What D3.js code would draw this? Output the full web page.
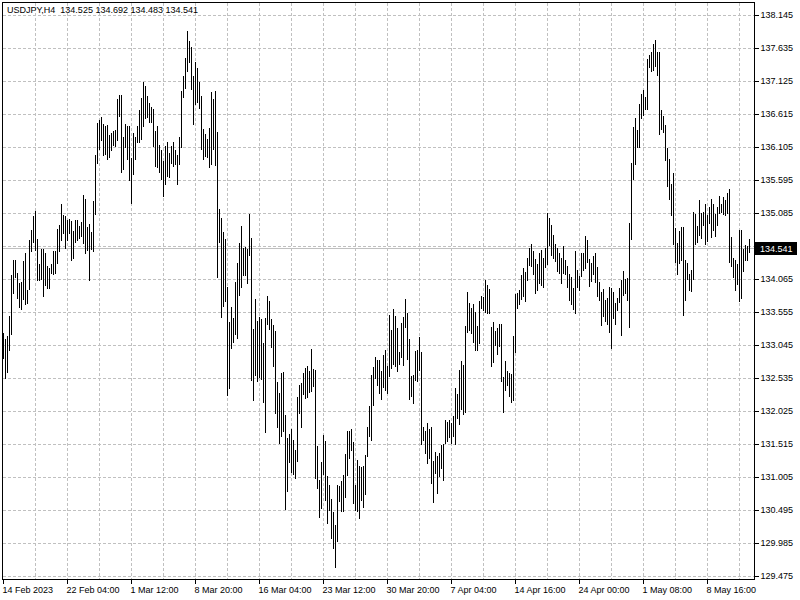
<!DOCTYPE html>
<html>
<head>
<meta charset="utf-8">
<script src="https://cdn.jsdelivr.net/npm/d3@7/dist/d3.min.js"></script>
<style>
  html, body { margin: 0; padding: 0; background: #fff; }
  svg { display: block; }
  text { font-family: "Liberation Sans", Arial, sans-serif; font-size: 9px; fill: #000; }
</style>
</head>
<body>
<svg id="chart" width="800" height="600"></svg>
<script>
const symbol = "USDJPY,H4";
const lastOHLC = [134.525, 134.692, 134.483, 134.541];
const bidPrice = 134.541;

const highs = [
133.236,133.143,133.194,133.504,134.137,134.369,134.369,134.173,134.008,134.019,
134.354,134.482,133.895,134.678,134.823,135.039,135.127,134.688,134.307,134.539,
134.539,134.472,134.266,134.240,134.307,134.498,134.513,134.843,134.910,135.235,
135.065,135.049,134.977,134.998,134.962,134.807,134.987,134.977,134.895,134.946,
135.374,135.307,134.884,134.925,134.792,135.271,135.992,136.481,136.523,136.569,
136.471,136.440,136.456,136.301,136.327,136.363,136.378,136.852,136.919,136.919,
136.265,136.471,136.440,136.440,135.940,136.327,136.275,136.440,136.688,136.868,
137.110,137.058,136.904,136.790,136.729,136.698,136.353,136.430,136.147,136.059,
135.904,136.131,136.183,136.018,136.121,136.183,136.069,135.992,136.275,136.971,
137.203,137.486,137.898,137.744,137.652,137.210,137.431,137.337,137.116,136.895,
136.397,136.309,136.243,136.408,136.961,136.862,136.978,136.342,135.149,135.016,
134.806,134.696,133.950,133.408,133.635,133.469,134.022,134.320,134.630,134.889,
134.558,134.574,134.541,135.083,134.707,133.303,133.768,133.425,133.480,133.453,
133.082,133.469,133.812,133.729,133.453,133.359,133.270,132.486,132.309,132.624,
132.641,131.972,131.613,131.684,131.751,131.591,131.436,132.254,132.441,132.458,
132.624,132.696,132.734,132.652,132.994,132.679,132.663,131.491,130.966,131.243,
131.657,131.574,131.022,130.894,130.673,130.469,130.265,130.883,130.872,130.950,
131.038,131.370,131.723,131.723,131.756,131.546,130.894,131.281,131.187,131.171,
131.187,131.353,131.778,132.110,132.585,132.707,132.872,132.828,132.818,132.654,
132.896,132.973,132.726,133.514,133.282,133.602,133.498,133.308,132.947,133.395,
133.488,133.756,133.550,133.138,132.571,132.587,132.963,132.983,133.169,132.947,
131.778,131.726,131.840,131.762,131.778,131.263,131.402,131.335,131.386,131.505,
131.520,131.901,131.865,131.901,131.840,131.953,132.381,132.303,132.674,132.808,
132.741,133.344,133.869,133.705,133.617,133.694,133.565,133.344,133.736,133.808,
133.787,134.055,133.978,133.911,133.334,133.411,133.272,133.308,133.375,133.385,
132.551,132.808,132.654,132.623,132.612,133.189,133.839,133.849,133.900,134.132,
134.235,134.184,134.400,134.550,134.620,134.500,134.380,134.300,134.480,134.520,
134.400,134.550,135.100,135.020,134.900,134.750,134.620,134.550,134.480,134.400,
134.580,134.363,134.270,134.157,134.106,133.941,134.507,134.219,134.116,134.477,
134.477,134.734,134.672,134.389,134.322,134.425,134.477,134.260,134.028,133.874,
133.925,133.745,133.786,133.951,133.941,133.874,133.704,133.786,133.941,134.054,
134.198,134.080,134.095,134.940,135.868,136.424,136.568,136.372,136.774,136.939,
136.991,136.888,137.480,137.532,137.583,137.702,137.774,137.583,137.583,136.692,
136.589,136.450,136.105,135.934,135.548,135.713,134.868,134.631,134.817,134.878,
134.878,134.363,134.322,134.157,134.219,135.110,135.084,134.889,135.301,135.095,
135.110,135.239,135.059,135.187,135.316,135.239,135.074,135.187,135.352,135.239,
135.342,135.290,135.404,135.471,134.724,134.404,134.363,134.312,134.837,134.837,
134.543,134.595,134.580,134.692
];

const lows = [
132.849,132.540,132.628,132.968,133.220,133.864,134.101,133.777,133.637,133.607,
133.761,133.689,133.699,133.916,134.513,134.637,134.524,134.060,134.050,134.070,
133.813,133.983,133.931,133.931,134.163,134.153,134.173,134.318,134.513,134.668,
134.781,134.549,134.668,134.781,134.369,134.395,134.652,134.678,134.704,134.730,
134.627,134.482,134.524,134.050,134.534,134.513,135.080,135.873,136.080,136.224,
135.992,136.002,135.925,135.956,136.069,136.147,136.121,136.224,136.595,135.734,
135.770,136.110,135.925,135.606,135.255,135.698,135.925,136.183,136.183,136.234,
136.440,136.559,136.584,136.492,136.492,136.121,135.822,135.801,135.734,135.616,
135.358,135.544,135.657,135.647,135.873,135.812,135.853,135.544,135.853,136.110,
136.883,137.022,137.295,137.434,137.016,136.464,136.784,136.806,136.712,136.088,
135.922,135.966,135.955,135.801,135.845,136.077,135.828,134.099,134.652,133.491,
133.657,133.729,132.276,132.386,133.011,133.105,133.215,133.160,133.823,133.950,
134.132,134.132,134.005,134.447,132.513,132.198,132.596,132.497,132.552,132.530,
132.165,131.701,133.370,133.303,133.027,132.734,131.995,131.778,131.535,131.646,
131.723,130.524,130.801,131.243,131.094,131.060,131.005,131.254,131.995,131.778,
132.292,132.237,132.254,132.320,132.348,132.420,130.994,130.839,130.397,130.541,
131.060,130.651,130.304,130.508,130.066,129.917,129.624,130.027,130.635,130.486,
130.486,130.707,131.049,131.314,131.425,130.618,130.508,130.486,130.386,130.651,
130.552,130.745,131.337,131.646,131.591,132.127,132.541,132.442,132.314,132.211,
132.406,132.355,132.314,132.571,132.690,132.757,132.726,132.654,132.757,132.870,
132.741,133.334,132.844,132.211,132.262,132.159,132.509,132.499,132.664,131.520,
131.582,131.376,131.232,131.314,130.922,130.629,131.077,130.768,131.026,131.159,
130.974,131.541,131.572,131.634,131.541,131.644,131.520,131.917,131.829,132.056,
131.984,132.020,133.256,133.282,133.241,133.102,132.983,132.973,133.086,133.617,
133.591,133.565,133.540,133.550,132.726,132.793,133.050,132.911,133.035,132.499,
132.020,132.355,132.432,132.262,132.174,132.200,132.947,133.632,133.694,133.756,
133.808,133.736,134.055,134.287,134.271,134.148,133.859,133.900,134.014,133.978,
133.952,134.261,134.302,134.600,134.450,134.400,134.350,134.200,134.168,134.014,
134.160,134.147,133.951,133.755,133.693,133.616,133.549,133.951,133.910,134.116,
134.219,134.250,134.337,133.961,134.044,134.147,134.028,133.807,133.745,133.358,
133.498,133.425,133.374,133.255,133.013,133.477,133.384,133.601,133.719,133.204,
133.822,133.858,133.745,133.333,134.698,135.625,135.857,136.115,136.115,136.568,
136.604,136.707,136.707,137.351,137.289,137.300,137.362,137.223,136.321,136.398,
136.347,135.909,135.507,135.316,135.059,134.621,134.337,134.157,134.322,134.363,
133.513,133.745,134.080,133.900,133.889,134.080,134.621,134.646,134.750,134.713,
134.904,134.621,134.662,134.940,134.724,134.837,134.734,134.904,135.095,135.110,
135.084,135.059,135.095,134.337,134.270,134.106,133.900,134.002,133.735,133.786,
134.198,134.363,134.373,134.483
];

const yTicks = [138.145,137.635,137.125,136.615,136.105,135.595,135.085,134.575,134.065,
  133.555,133.045,132.535,132.025,131.515,131.005,130.495,129.985,129.475];

const xTickBars = [0,32,64,96,128,160,192,224,256,288,320,352];
const xTickLabels = ["14 Feb 2023","22 Feb 04:00","1 Mar 12:00","8 Mar 20:00","16 Mar 04:00",
  "23 Mar 12:00","30 Mar 20:00","7 Apr 04:00","14 Apr 16:00","24 Apr 00:00","1 May 08:00","8 May 16:00"];
const gridBars = d3.range(16, 373, 16);

const svg = d3.select("#chart");
svg.append("rect").attr("width", 800).attr("height", 600).attr("fill", "#fff");

const n = highs.length;
const x = d3.scaleLinear().domain([0, n - 1]).range([3.5, 3.5 + 2 * (n - 1)]);
const y = d3.scaleLinear().domain([129.475, 138.145]).range([576.5, 15.5]);

const L = 2.5, R = 754.5, T = 2.5, B = 579.5;
const gridColor = "#c0c0c0";

// horizontal grid
svg.append("g").selectAll("line").data(yTicks).join("line")
  .attr("x1", L).attr("x2", R)
  .attr("y1", d => Math.round(y(d) - 0.5) + 0.5).attr("y2", d => Math.round(y(d) - 0.5) + 0.5)
  .attr("stroke", gridColor).attr("stroke-dasharray", "3,2").attr("shape-rendering", "crispEdges");

// vertical grid
svg.append("g").selectAll("line").data(gridBars).join("line")
  .attr("x1", d => x(d)).attr("x2", d => x(d))
  .attr("y1", T).attr("y2", B)
  .attr("stroke", gridColor).attr("stroke-dasharray", "3,2").attr("shape-rendering", "crispEdges");

// bid line
const by = Math.round(y(bidPrice) - 0.5) + 0.5;
svg.append("line").attr("x1", L).attr("x2", R).attr("y1", by).attr("y2", by)
  .attr("stroke", gridColor).attr("shape-rendering", "crispEdges");

// bars
svg.append("g").selectAll("line").data(d3.range(n)).join("line")
  .attr("x1", i => x(i)).attr("x2", i => x(i))
  .attr("y1", i => Math.round(y(highs[i]))).attr("y2", i => Math.round(y(lows[i])) + 1)
  .attr("stroke", "#000").attr("stroke-width", 1).attr("shape-rendering", "crispEdges");

// frame
svg.append("rect").attr("x", L).attr("y", T).attr("width", R - L).attr("height", B - T)
  .attr("fill", "none").attr("stroke", "#000").attr("shape-rendering", "crispEdges");

// y axis (the tick label hidden behind the bid label is not shown, as in the reference)
const yAxis = d3.axisRight(y).tickValues(yTicks).tickSize(4).tickPadding(2)
  .tickFormat(d => Math.abs(y(d) - y(bidPrice)) < 10 ? "" : d3.format(".3f")(d)).offset(0);
const gy = svg.append("g").attr("transform", `translate(${R},0)`).call(yAxis);
gy.select(".domain").remove();
gy.selectAll(".tick line").attr("stroke", "#000").attr("shape-rendering", "crispEdges");
gy.selectAll(".tick text").filter(function() { return this.textContent === ""; }).remove();
gy.attr("font-family", null).attr("font-size", null);

// x axis
const xAxis = d3.axisBottom(x).tickValues(xTickBars).tickSize(4).tickPadding(3)
  .tickFormat((d, i) => xTickLabels[i]).offset(0);
const gx = svg.append("g").attr("transform", `translate(0,${B})`).call(xAxis);
gx.select(".domain").remove();
gx.selectAll(".tick line").attr("stroke", "#000").attr("shape-rendering", "crispEdges");
gx.selectAll(".tick text").attr("text-anchor", "start").attr("x", -1);
gx.attr("font-family", null).attr("font-size", null);

// bid label
const bg = svg.append("g");
bg.append("rect").attr("x", 755).attr("y", by - 6.5).attr("width", 42).attr("height", 13).attr("fill", "#000");
bg.append("text").attr("x", 760).attr("y", by + 3.5).style("fill", "#fff").text(d3.format(".3f")(bidPrice));

// title
svg.append("text").attr("x", 7).attr("y", 13).style("white-space", "pre")
  .text(symbol + "  " + lastOHLC.map(d3.format(".3f")).join(" "));
</script>
</body>
</html>
